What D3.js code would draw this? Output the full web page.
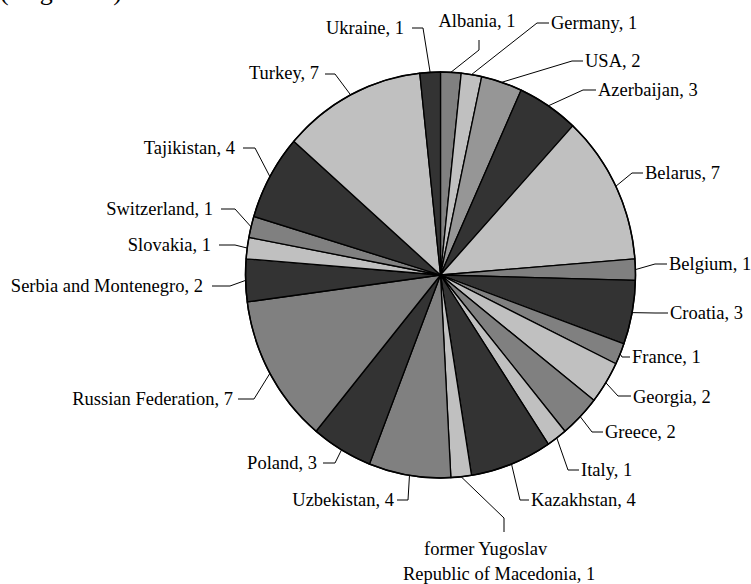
<!DOCTYPE html>
<html>
<head>
<meta charset="utf-8">
<script src="https://cdn.jsdelivr.net/npm/d3@7/dist/d3.min.js"></script>
<style>
  body { margin: 0; background: #fff; }
  svg { display: block; }
  text { font-family: "Liberation Serif", "Times New Roman", serif; font-size: 18.5px; fill: #000; }
</style>
</head>
<body>
<svg id="chart" width="751" height="584"></svg>
<script>
// data, clockwise from 12 o'clock
var countries = ["Albania", "Germany", "USA", "Azerbaijan", "Belarus", "Belgium", "Croatia",
    "France", "Georgia", "Greece", "Italy", "Kazakhstan",
    "former Yugoslav Republic of Macedonia", "Uzbekistan", "Poland", "Russian Federation",
    "Serbia and Montenegro", "Slovakia", "Switzerland", "Tajikistan", "Turkey", "Ukraine"];
var counts = [1, 1, 2, 3, 7, 1, 3, 1, 2, 2, 1, 4, 1, 4, 3, 7, 2, 1, 1, 4, 7, 1];

// slice fills (excel grey pattern)
var fills = ["#808080", "#c0c0c0", "#969696", "#333333", "#c0c0c0", "#808080", "#333333",
    "#808080", "#c0c0c0", "#808080", "#c0c0c0", "#333333",
    "#c0c0c0", "#808080", "#333333", "#808080",
    "#333333", "#c0c0c0", "#808080", "#333333", "#c0c0c0", "#333333"];

// label placement: text x, text y, anchor, elbow x, elbow y, line end x, line end y
var labelLayout = [
    [477, 27, "middle", 479, 50, 479, 40],
    [551, 29, "start", 537, 23, 549, 23],
    [585, 67, "start", 572, 61, 583, 61],
    [598, 96, "start", 583, 90, 596, 90],
    [645, 179, "start", 632, 173, 643, 173],
    [669, 270, "start", 655, 264, 667, 264],
    [670, 319, "start", 655, 313, 668, 313],
    [632, 363, "start", 622, 357, 630, 357],
    [633, 403, "start", 618, 396, 631, 396],
    [605, 438, "start", 592, 432, 603, 432],
    [581, 476, "start", 568, 470, 579, 470],
    [531, 506, "start", 520, 500, 529, 500],
    [424, 555, "start", 504, 518, 504, 532],
    [394, 506, "end", 408, 500, 397, 500],
    [317, 469, "end", 335, 463, 323, 463],
    [233, 405, "end", 254, 399, 238, 399],
    [203, 292, "end", 230, 286, 212, 286],
    [211, 251, "end", 235, 245, 219, 245],
    [213, 215, "end", 235, 209, 221, 209],
    [235, 154, "end", 255, 148, 243, 148],
    [319, 79, "end", 335, 74, 325, 74],
    [404, 34, "end", 423, 28, 412, 28]
];

var svg = d3.select("#chart");
var cx = 440.5, cy = 275, rx = 195, ry = 203;

// heading above the chart, mostly cut off at the top like the original
svg.append("text")
    .attr("x", 0)
    .attr("y", 0)
    .style("font-size", "26px")
    .text("(de gesamt)");

var pie = d3.pie().sort(null).value(function(d) { return d; });
var slices = pie(counts);

var arc = d3.arc().innerRadius(0).outerRadius(rx);
var rim = d3.arc().innerRadius(rx).outerRadius(rx);

// the pie is a bit taller than wide in the original
var g = svg.append("g")
    .attr("transform", "translate(" + cx + "," + cy + ") scale(1," + (ry / rx) + ")");

g.selectAll("path.slice")
    .data(slices)
    .enter().append("path")
    .attr("class", "slice")
    .attr("d", arc)
    .attr("fill", function(d, i) { return fills[i]; })
    .attr("stroke", "#000")
    .attr("stroke-width", 1.3)
    .attr("stroke-linejoin", "round")
    .attr("vector-effect", "non-scaling-stroke");

g.append("ellipse")
    .attr("rx", rx)
    .attr("ry", rx)
    .attr("fill", "none")
    .attr("stroke", "#000")
    .attr("stroke-width", 1.5)
    .attr("vector-effect", "non-scaling-stroke");

// leader lines
var line = d3.line();
svg.selectAll("path.leader")
    .data(slices)
    .enter().append("path")
    .attr("class", "leader")
    .attr("fill", "none")
    .attr("stroke", "#000")
    .attr("stroke-width", 1)
    .attr("d", function(d, i) {
        var c = rim.centroid(d);
        var L = labelLayout[i];
        return line([[cx + c[0], cy + c[1] * ry / rx], [L[3], L[4]], [L[5], L[6]]]);
    });

// labels
svg.selectAll("text.lbl")
    .data(slices)
    .enter().append("text")
    .attr("class", "lbl")
    .attr("x", function(d, i) { return labelLayout[i][0]; })
    .attr("y", function(d, i) { return labelLayout[i][1]; })
    .attr("text-anchor", function(d, i) { return labelLayout[i][2]; })
    .each(function(d, i) {
        var name = countries[i];
        var t = d3.select(this);
        if (name.indexOf("former Yugoslav") === 0) {
            //two line label
            t.append("tspan").text("former Yugoslav");
            t.append("tspan")
                .attr("x", labelLayout[i][0] - 21)
                .attr("dy", 25)
                .text(name.replace("former Yugoslav ", "") + ", " + d.data);
        } else {
            t.text(name + ", " + d.data);
        }
    });
</script>
</body>
</html>
